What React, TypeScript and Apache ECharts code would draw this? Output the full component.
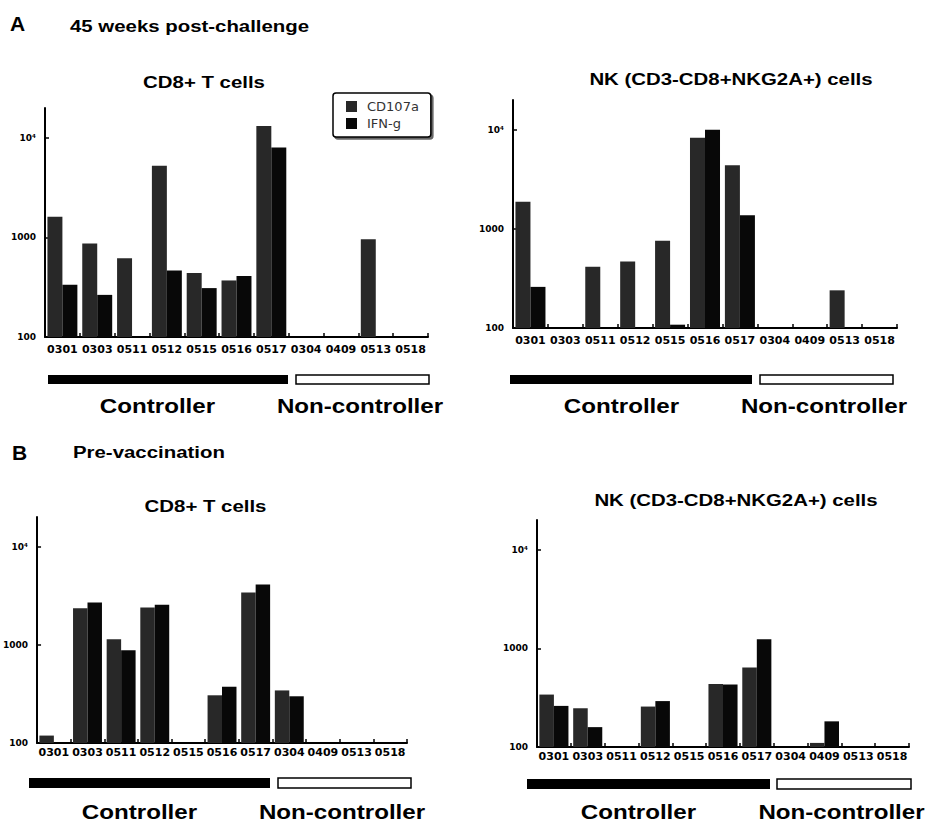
import React, { useEffect, useRef } from "react";
import * as echarts from "echarts";

const categories = ["0301", "0303", "0511", "0512", "0515", "0516", "0517", "0304", "0409", "0513", "0518"];
const seriesNames = ["CD107a", "IFN-g"];
const yTickValues = [100, 1000, 10000];

// Panel A: 45 weeks post-challenge
const aCd8Cd107a = [1620, 870, 620, 5250, 440, 370, 13200, null, null, 960, null];
const aCd8Ifng = [335, 265, null, 465, 310, 410, 8000, null, null, null, null];
const aNkCd107a = [1880, null, 415, 470, 760, 8300, 4400, null, null, 240, null];
const aNkIfng = [260, null, null, null, 108, 10000, 1370, null, null, null, null];
// Panel B: pre-vaccination
const bCd8Cd107a = [119, 2360, 1140, 2400, null, 306, 3400, 343, null, null, null];
const bCd8Ifng = [null, 2700, 880, 2550, null, 374, 4100, 299, null, null, null];
const bNkCd107a = [340, 247, null, 257, null, 435, 640, null, 110, null, null];
const bNkIfng = [261, 159, null, 292, null, 430, 1240, null, 182, null, null];

const panelData = [
  [aCd8Cd107a, aCd8Ifng],
  [aNkCd107a, aNkIfng],
  [bCd8Cd107a, bCd8Ifng],
  [bNkCd107a, bNkIfng],
];

const FONT = "'Liberation Sans', Arial, sans-serif";
const COLORS = ["#282828", "#080808"];

export default function App() {
  const ref = useRef<HTMLDivElement>(null);
  useEffect(() => {
    if (!ref.current) return;
    const chart = echarts.init(ref.current, null, { renderer: "svg" });
    const grids = [
      { left: 45, top: 108, width: 383, height: 229 },
      { left: 513, top: 100, width: 384, height: 228 },
      { left: 36, top: 517, width: 371, height: 226 },
      { left: 537, top: 520, width: 372, height: 227 },
    ];
    const labelMargins = [7, 7, 4, 4];
    const xAxis = grids.map((_, i) => ({
      type: "category",
      gridIndex: i,
      data: categories,
      axisLine: { lineStyle: { color: "#000", width: 2 } },
      axisTick: { show: true, inside: true, length: 4, interval: 0, alignWithLabel: false, lineStyle: { color: "#000", width: 1.5 } },
      axisLabel: {
        interval: 0,
        margin: labelMargins[i],
        fontFamily: "'DejaVu Sans', sans-serif",
        fontWeight: "bold",
        fontSize: 11,
        color: "#000",
      },
      splitLine: { show: false },
    }));
    const yAxis = grids.map((_, i) => ({
      type: "log",
      logBase: 10,
      gridIndex: i,
      min: 100,
      max: 20000,
      startValue: 100,
      axisLine: { show: true, lineStyle: { color: "#000", width: 2 } },
      axisTick: { show: true, inside: true, length: 4, customValues: yTickValues, lineStyle: { color: "#000", width: 1.5 } },
      axisLabel: {
        customValues: yTickValues,
        margin: 9,
        fontFamily: "'DejaVu Sans', sans-serif",
        fontWeight: "bold",
        fontSize: 9,
        color: "#000",
        formatter: (v: number) => (Math.round(v) === 10000 ? "10⁴" : String(Math.round(v))),
      },
      splitLine: { show: false },
      minorTick: { show: false },
    }));
    const series: any[] = [];
    panelData.forEach((pair, i) => {
      pair.forEach((vals, j) => {
        series.push({
          type: "bar",
          name: seriesNames[j],
          xAxisIndex: i,
          yAxisIndex: i,
          data: vals.map((v) => (v == null ? "-" : v)),
          barGap: "0%",
          barCategoryGap: "14%",
          clip: true,
          itemStyle: { color: COLORS[j] },
        });
      });
    });

    const txt = (text: string, x: number, y: number, size: number, align: string, scaleX = 1) => ({
      type: "text",
      x,
      y,
      scaleX,
      style: {
        text,
        x: 0,
        y: 0,
        textAlign: align,
        textVerticalAlign: "middle",
        font: `bold ${size}px ${FONT}`,
        fill: "#000",
      },
    });
    const rect = (x: number, y: number, w: number, h: number, filled: boolean) => ({
      type: "rect",
      shape: { x, y, width: w, height: h },
      style: filled ? { fill: "#000" } : { fill: "#fff", stroke: "#000", lineWidth: 1.5 },
    });

    const graphic = [
      txt("A", 10, 23, 21, "left"),
      txt("45 weeks post-challenge", 70, 26, 17, "left", 1.2),
      txt("B", 12, 452, 21, "left"),
      txt("Pre-vaccination", 73, 452, 17, "left", 1.2),
      txt("CD8+ T cells", 204, 82, 17, "center", 1.2),
      txt("NK (CD3-CD8+NKG2A+) cells", 731, 79, 17, "center", 1.2),
      txt("CD8+ T cells", 205.5, 506, 17, "center", 1.2),
      txt("NK (CD3-CD8+NKG2A+) cells", 736, 500, 17, "center", 1.2),
      rect(48, 375, 240, 9, true),
      rect(296, 375, 133, 9, false),
      rect(510, 375, 242, 9, true),
      rect(760, 375, 133, 9, false),
      rect(29, 778, 241, 10, true),
      rect(278, 778, 133, 10, false),
      rect(527, 779, 243, 10, true),
      rect(777, 779, 134, 10, false),
      txt("Controller", 157.5, 406, 21, "center", 1.15),
      txt("Non-controller", 360, 406, 21, "center", 1.15),
      txt("Controller", 621.5, 406, 21, "center", 1.15),
      txt("Non-controller", 824, 406, 21, "center", 1.15),
      txt("Controller", 139.5, 812, 21, "center", 1.15),
      txt("Non-controller", 342, 812, 21, "center", 1.15),
      txt("Controller", 638.5, 812, 21, "center", 1.15),
      txt("Non-controller", 841.5, 812, 21, "center", 1.15),
    ];

    chart.setOption({
      animation: false,
      backgroundColor: "#fff",
      grid: grids,
      xAxis,
      yAxis,
      series,
      legend: {
        data: seriesNames,
        selectedMode: false,
        orient: "vertical",
        left: 333,
        top: 93,
        padding: [7, 12, 7, 13],
        itemWidth: 11,
        itemHeight: 11,
        itemGap: 4,
        icon: "rect",
        borderColor: "#000",
        borderWidth: 1.5,
        borderRadius: 3,
        backgroundColor: "#fff",
        shadowColor: "rgba(0,0,0,0.6)",
        shadowBlur: 1,
        shadowOffsetX: 2,
        shadowOffsetY: 2,
        textStyle: { fontFamily: "'DejaVu Sans', sans-serif", fontSize: 13, color: "#333", padding: [0, 0, 0, 5] },
      },
      graphic,
    });
    return () => chart.dispose();
  }, []);
  return <div ref={ref} style={{ position: "absolute", left: 0, top: 0, width: 928, height: 824 }} />;
}
